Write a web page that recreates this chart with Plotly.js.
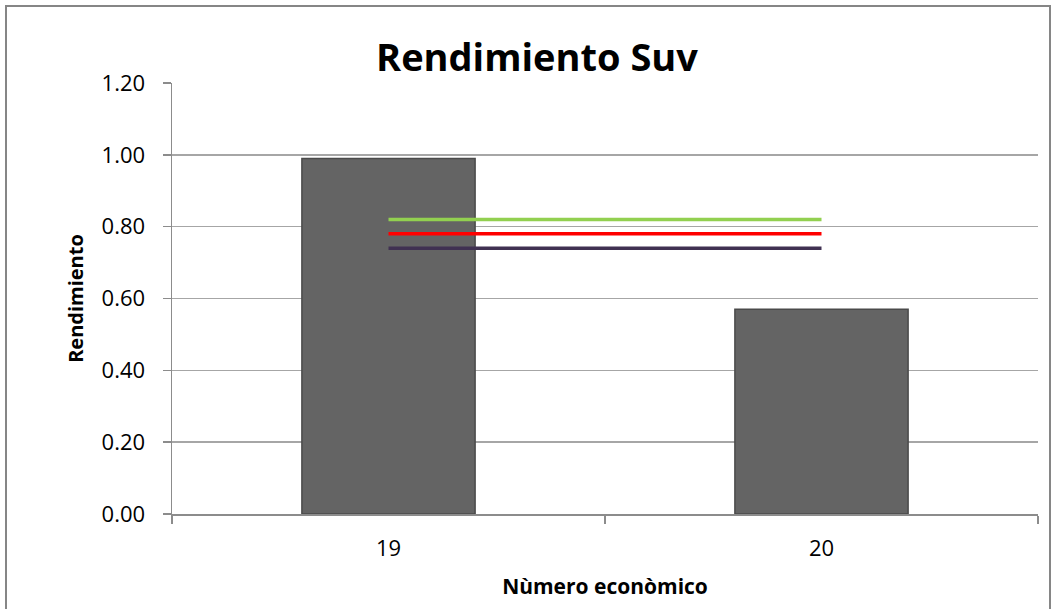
<!DOCTYPE html>
<html>
<head>
<meta charset="utf-8">
<script src="https://cdn.plot.ly/plotly-3.0.1.min.js"></script>
<style>html,body{margin:0;padding:0;background:#fff;}#chart{width:1057px;height:609px;}</style>
</head>
<body>
<div id="chart"></div>
<script>
// Data
const categories = ['19', '20'];
const rendimiento = [0.99, 0.57];
const lineGreen = [0.82, 0.82];
const lineRed = [0.78, 0.78];
const lineDark = [0.74, 0.74];
const yTicks = [0, 0.2, 0.4, 0.6, 0.8, 1.0, 1.2];

const W = 1057, H = 609;
const mL = 172, mR = 19, mT = 83, mB = 95;
const pw = W - mL - mR, ph = H - mT - mB;
const FONT = 'Open Sans, sans-serif';

const traces = [
  {
    type: 'bar', x: categories, y: rendimiento, width: 0.4,
    marker: {color: '#646464', line: {color: '#4a4a4a', width: 1.5}},
    hoverinfo: 'y', showlegend: false
  },
  {type: 'scatter', mode: 'lines', x: categories, y: lineGreen,
   line: {color: '#92D050', width: 3.5}, showlegend: false},
  {type: 'scatter', mode: 'lines', x: categories, y: lineRed,
   line: {color: '#FF0000', width: 3.5}, showlegend: false},
  {type: 'scatter', mode: 'lines', x: categories, y: lineDark,
   line: {color: '#403152', width: 3.5}, showlegend: false}
];

const layout = {
  width: W, height: H,
  margin: {l: mL, r: mR, t: mT, b: mB, pad: 0},
  paper_bgcolor: '#fff', plot_bgcolor: '#fff',
  font: {family: FONT, color: '#000'},
  showlegend: false,
  title: {
    text: 'Rendimiento Suv',
    font: {family: FONT, size: 38, color: '#000', weight: 'bold'},
    x: 537 / W, xanchor: 'center', xref: 'container',
    y: 1 - 44 / H, yanchor: 'top', yref: 'container'
  },
  xaxis: {
    type: 'category', tickson: 'boundaries', ticks: 'outside', ticklen: 8,
    tickcolor: '#8c8c8c', tickwidth: 1.5,
    showline: true, linecolor: '#8c8c8c', linewidth: 1.5,
    showgrid: false, zeroline: false,
    tickfont: {family: FONT, size: 22, color: '#000'},
    ticklabelstandoff: 14,
    title: {text: '<b>Nùmero econòmico</b>', font: {family: FONT, size: 21, color: '#000'}, standoff: 18}
  },
  yaxis: {
    range: [0, 1.2], tickvals: yTicks, tickformat: '.2f',
    ticks: 'outside', ticklen: 8, tickcolor: '#8c8c8c', tickwidth: 1.5,
    showline: true, linecolor: '#8c8c8c', linewidth: 1.5,
    showgrid: true, gridcolor: '#a6a6a6', gridwidth: 1.5,
    zeroline: false,
    tickfont: {family: FONT, size: 22, color: '#000'},
    ticklabelstandoff: 13,
    title: {text: '<b>Rendimiento</b>', font: {family: FONT, size: 20, color: '#000'}, standoff: 12}
  },
  shapes: [
    {type: 'rect', xref: 'paper', yref: 'paper',
     x0: (6 - mL) / pw, x1: (1050 - mL) / pw,
     y0: (H - mB - 640) / ph, y1: (H - mB - 6) / ph,
     line: {color: '#868686', width: 2}, fillcolor: 'rgba(0,0,0,0)', layer: 'below'}
  ]
};

Plotly.newPlot('chart', traces, layout, {displayModeBar: false, staticPlot: true});
</script>
</body>
</html>
